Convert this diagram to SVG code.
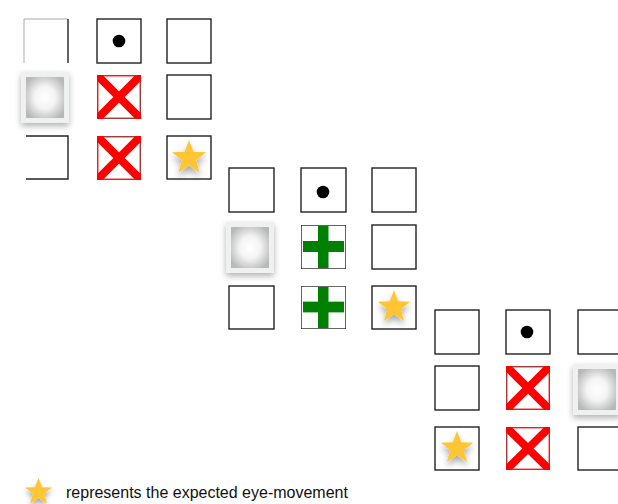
<svg xmlns="http://www.w3.org/2000/svg" xmlns:xlink="http://www.w3.org/1999/xlink" width="618" height="504" viewBox="0 0 618 504">
  <style>
    .cell { fill: #fff; stroke: #222; stroke-width: 1.4; }
    .edge { fill: none; stroke: #222; stroke-width: 1.4; }
    .faint { fill: none; stroke: #aaa; stroke-width: 1; }
    .dot { fill: #000; }
    .star { fill: #FFC533; filter: url(#starShadow); }
    .frame { fill: #eef1ef; filter: url(#glowShadow); }
    .inner { fill: url(#innerGlow); }
    .legend { font-family: "Liberation Sans", Arial, sans-serif; font-size: 16px; fill: #111; }
  </style>
  <defs>
    <filter id="starShadow" x="-50%" y="-50%" width="200%" height="200%">
      <feDropShadow dx="0" dy="2.5" stdDeviation="2" flood-color="#000" flood-opacity="0.35"/>
    </filter>
    <filter id="glowShadow" x="-40%" y="-40%" width="180%" height="180%">
      <feDropShadow dx="0" dy="3" stdDeviation="3" flood-color="#000" flood-opacity="0.3"/>
    </filter>
    <radialGradient id="innerGlow" cx="0.5" cy="0.5" r="0.6">
      <stop offset="0" stop-color="#ffffff"/>
      <stop offset="0.45" stop-color="#f4f4f4"/>
      <stop offset="1" stop-color="#b8b8b8"/>
    </radialGradient>
    <path id="starShape" d="M0,-10 L2.469,-3.398 L9.511,-3.090 L3.994,1.298 L5.878,8.090 L0,4.2 L-5.878,8.090 L-3.994,1.298 L-9.511,-3.090 L-2.469,-3.398 Z"/>
    <symbol id="xmark" viewBox="0 0 44 44" preserveAspectRatio="none">
      <rect x="0" y="0" width="44" height="44" fill="#fff" stroke="#222" stroke-width="1.4"/>
      <rect x="1" y="1" width="42" height="42" fill="none" stroke="#f00" stroke-width="0.8"/>
      <line x1="-2" y1="-2" x2="46" y2="46" stroke="#f00" stroke-width="8"/>
      <line x1="46" y1="-2" x2="-2" y2="46" stroke="#f00" stroke-width="8"/>
    </symbol>
    <symbol id="plus" viewBox="0 0 45 44" preserveAspectRatio="none">
      <rect x="0" y="0" width="45" height="44" fill="#fff" stroke="#222" stroke-width="1.4"/>
      <rect x="2" y="16" width="41" height="11" fill="#008000"/>
      <rect x="17" y="1" width="10.5" height="42" fill="#008000"/>
    </symbol>
    <g id="glowBox">
      <rect class="frame" x="0" y="0" width="48" height="51"/>
      <rect class="inner" x="5" y="5" width="38" height="41"/>
    </g>
  </defs>

  <!-- Trial 1 (top-left) -->
  <g id="trial1">
    <g id="t1-r1c1">
      <rect x="24" y="19" width="44" height="44" fill="#fff"/>
      <path class="faint" d="M24,63 V19 H68"/>
      <path class="edge" d="M68,19 V63"/>
    </g>
    <g id="t1-r1c2">
      <rect class="cell" x="97" y="19" width="44" height="44"/>
      <circle class="dot" cx="119" cy="41" r="6.3"/>
    </g>
    <rect id="t1-r1c3" class="cell" x="167" y="19" width="44" height="44"/>
    <use id="t1-r2c1" href="#glowBox" x="21" y="72"/>
    <use id="t1-r2c2" href="#xmark" x="97" y="75" width="44" height="44"/>
    <rect id="t1-r2c3" class="cell" x="167" y="75" width="44" height="44"/>
    <g id="t1-r3c1">
      <path class="edge" d="M26,136 H68 V179 H26"/>
    </g>
    <use id="t1-r3c2" href="#xmark" x="97" y="136" width="44" height="44"/>
    <g id="t1-r3c3">
      <rect class="cell" x="167" y="136" width="44" height="43"/>
      <use class="star" href="#starShape" transform="translate(189,157.9) scale(1.79)"/>
    </g>
  </g>

  <!-- Trial 2 (middle) -->
  <g id="trial2">
    <rect id="t2-r1c1" class="cell" x="229" y="168" width="45" height="44"/>
    <g id="t2-r1c2">
      <rect class="cell" x="301" y="168" width="45" height="44"/>
      <circle class="dot" cx="323" cy="192" r="6.3"/>
    </g>
    <rect id="t2-r1c3" class="cell" x="372" y="168" width="44" height="44"/>
    <use id="t2-r2c1" href="#glowBox" x="226" y="222"/>
    <use id="t2-r2c2" href="#plus" x="301" y="225" width="45" height="44"/>
    <rect id="t2-r2c3" class="cell" x="372" y="225" width="44" height="44"/>
    <rect id="t2-r3c1" class="cell" x="229" y="286" width="45" height="43"/>
    <use id="t2-r3c2" href="#plus" x="301" y="286" width="45" height="43"/>
    <g id="t2-r3c3">
      <rect class="cell" x="372" y="286" width="44" height="43"/>
      <use class="star" href="#starShape" transform="translate(394,307) scale(1.7)"/>
    </g>
  </g>

  <!-- Trial 3 (bottom-right) -->
  <g id="trial3">
    <rect id="t3-r1c1" class="cell" x="435" y="310" width="44" height="44"/>
    <g id="t3-r1c2">
      <rect class="cell" x="506" y="310" width="44" height="44"/>
      <circle class="dot" cx="527" cy="332" r="6.3"/>
    </g>
    <rect id="t3-r1c3" class="cell" x="578" y="310" width="48" height="44"/>
    <rect id="t3-r2c1" class="cell" x="435" y="366" width="44" height="44"/>
    <use id="t3-r2c2" href="#xmark" x="506" y="366" width="44" height="44"/>
    <use id="t3-r2c3" href="#glowBox" x="573" y="364"/>
    <g id="t3-r3c1">
      <rect class="cell" x="435" y="427" width="44" height="43"/>
      <use class="star" href="#starShape" transform="translate(457,448) scale(1.7)"/>
    </g>
    <use id="t3-r3c2" href="#xmark" x="506" y="427" width="44" height="43"/>
    <rect id="t3-r3c3" class="cell" x="578" y="427" width="48" height="43"/>
  </g>

  <!-- Legend -->
  <g id="legend">
    <use class="star" href="#starShape" transform="translate(38.5,492) scale(1.42)"/>
    <text class="legend" x="66" y="498">represents the expected eye-movement</text>
  </g>
</svg>
